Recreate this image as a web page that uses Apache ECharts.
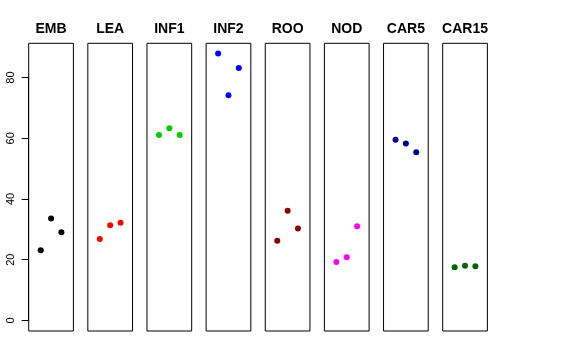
<!DOCTYPE html>
<html>
<head>
<meta charset="utf-8">
<script src="https://cdn.jsdelivr.net/npm/echarts@6/dist/echarts.min.js"></script>
<style>html,body{margin:0;padding:0;background:#fff}#c{width:576px;height:360px}</style>
</head>
<body>
<div id="c"></div>
<script>
const categories = ['EMB','LEA','INF1','INF2','ROO','NOD','CAR5','CAR15'];
const colors = ['#000000','#FF0000','#00CD00','#0000FF','#8B0000','#FF00FF','#00008B','#006400'];
const EMB = [23.1, 33.6, 29.0];
const LEA = [26.8, 31.3, 32.2];
const INF1 = [61.1, 63.3, 61.1];
const INF2 = [87.9, 74.2, 83.2];
const ROO = [26.2, 36.1, 30.3];
const NOD = [19.2, 20.8, 31.0];
const CAR5 = [59.5, 58.3, 55.4];
const CAR15 = [17.5, 18.0, 17.8];
const seriesValues = [EMB, LEA, INF1, INF2, ROO, NOD, CAR5, CAR15];
const yTicks = [0, 20, 40, 60, 80];

const chart = echarts.init(document.getElementById('c'), null, {renderer: 'canvas'});
const panelLeft0 = 28.7, panelStep = 59.14, panelW = 44.7;
const plotTop = 43.3, plotBottom = 331;
const yMin = -3.51, yMax = 91.3;

const grids = [], xAxes = [], yAxes = [], series = [], titles = [];
categories.forEach((c, i) => {
  const left = panelLeft0 + i * panelStep;
  grids.push({left: left, top: plotTop, width: panelW, height: plotBottom - plotTop, show: true,
    borderColor: '#000', borderWidth: 1, backgroundColor: 'transparent'});
  xAxes.push({type: 'value', gridIndex: i, min: -0.16, max: 4.16, show: false});
  yAxes.push({type: 'value', gridIndex: i, min: yMin, max: yMax, show: false});
  series.push({type: 'scatter', xAxisIndex: i, yAxisIndex: i, symbol: 'circle', symbolSize: 6,
    itemStyle: {color: colors[i], opacity: 1}, silent: true,
    data: seriesValues[i].map((v, k) => [k + 1, v])});
  titles.push({text: c, left: left + panelW / 2, top: 22, textAlign: 'center', padding: 0,
    textStyle: {fontFamily: 'Liberation Sans, Arial, sans-serif', fontSize: 14, fontWeight: 'bold', color: '#000'}});
});
// axis grid
const pxPerUnit = (plotBottom - plotTop) / (yMax - yMin);
const y0 = plotTop + (yMax - 0) * pxPerUnit;
const y80 = plotTop + (yMax - 80) * pxPerUnit;
grids.push({left: panelLeft0, top: y80, width: 1, height: y0 - y80, show: false});
xAxes.push({type: 'value', gridIndex: 8, show: false});
yAxes.push({type: 'value', gridIndex: 8, min: yTicks[0], max: yTicks[yTicks.length - 1], interval: 20,
  position: 'left',
  axisLine: {show: true, lineStyle: {color: '#000', width: 1}},
  axisTick: {show: true, length: 7, lineStyle: {color: '#000'}},
  splitLine: {show: false},
  axisLabel: {rotate: 90, margin: 12, fontSize: 11, color: '#000', fontFamily: 'Liberation Sans, Arial, sans-serif'}});

chart.setOption({
  animation: false,
  title: titles,
  grid: grids,
  xAxis: xAxes,
  yAxis: yAxes,
  series: series
});
</script>
</body>
</html>
